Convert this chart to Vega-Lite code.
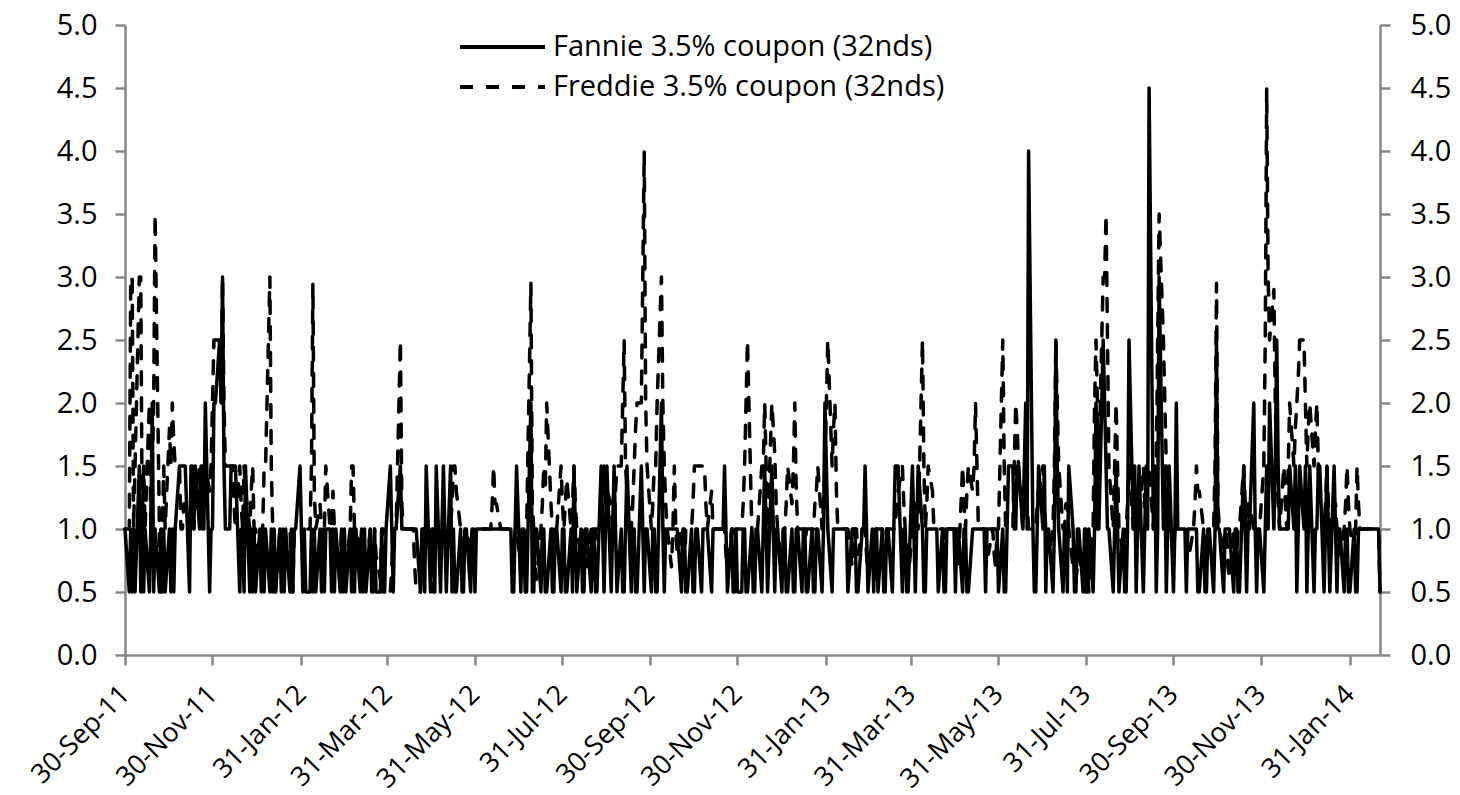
{
  "$schema": "https://vega.github.io/schema/vega-lite/v6.json",
  "width": 1255,
  "height": 630,
  "autosize": {"type": "none"},
  "padding": {"left": 125, "top": 25, "right": 80, "bottom": 140},
  "background": "white",
  "data": {"values": [
    {"d":"2011-09-30","a":1,"b":1},
    {"d":"2011-10-03","a":0.5,"b":1},{"d":"2011-10-04","a":1,"b":3},{"d":"2011-10-05","a":0.5,"b":3},{"d":"2011-10-06","a":1,"b":1},{"d":"2011-10-07","a":0.5,"b":1.5},
    {"d":"2011-10-10","a":1.5,"b":3},{"d":"2011-10-11","a":0.5,"b":3},{"d":"2011-10-12","a":1,"b":1},{"d":"2011-10-13","a":0.5,"b":1.5},{"d":"2011-10-14","a":1,"b":1},
    {"d":"2011-10-17","a":0.5,"b":2},{"d":"2011-10-18","a":1,"b":1},{"d":"2011-10-19","a":2,"b":1.5},{"d":"2011-10-20","a":0.5,"b":2},{"d":"2011-10-21","a":1,"b":3.5},
    {"d":"2011-10-24","a":0.5,"b":1},{"d":"2011-10-25","a":1,"b":0.5},{"d":"2011-10-26","a":0.5,"b":1},{"d":"2011-10-27","a":1,"b":1.5},{"d":"2011-10-28","a":0.5,"b":1},
    {"d":"2011-10-31","a":1,"b":1.8},{"d":"2011-11-01","a":0.5,"b":1.5},{"d":"2011-11-02","a":1,"b":2},{"d":"2011-11-03","a":0.5,"b":1.7},{"d":"2011-11-04","a":1,"b":1.5},
    {"d":"2011-11-07","a":1.5,"b":1.5},{"d":"2011-11-08","a":1.5,"b":1},{"d":"2011-11-09","a":1.5,"b":1},{"d":"2011-11-10","a":1.5,"b":1.2},{"d":"2011-11-11","a":1.5,"b":1.2},
    {"d":"2011-11-14","a":0.5,"b":1},{"d":"2011-11-15","a":1.5,"b":1.2},{"d":"2011-11-16","a":1.5,"b":1.5},{"d":"2011-11-17","a":1,"b":1},{"d":"2011-11-18","a":1.5,"b":1.2},
    {"d":"2011-11-21","a":1,"b":1.5},{"d":"2011-11-22","a":1.5,"b":1.2},{"d":"2011-11-23","a":1.5,"b":1},{"d":"2011-11-24","a":1,"b":1.3},{"d":"2011-11-25","a":2,"b":1.5},
    {"d":"2011-11-28","a":0.5,"b":1.3},{"d":"2011-11-29","a":1,"b":1.5},{"d":"2011-11-30","a":1,"b":2},{"d":"2011-12-01","a":2,"b":2.5},{"d":"2011-12-02","a":2,"b":2.5},
    {"d":"2011-12-05","a":2.5,"b":2.5},{"d":"2011-12-06","a":2,"b":2},{"d":"2011-12-07","a":3,"b":3},{"d":"2011-12-08","a":1.5,"b":2},{"d":"2011-12-09","a":1,"b":1.5},
    {"d":"2011-12-12","a":1,"b":1.5},{"d":"2011-12-13","a":1.5,"b":1.5},{"d":"2011-12-14","a":1.5,"b":1.5},{"d":"2011-12-15","a":1.5,"b":1.2},{"d":"2011-12-16","a":1.5,"b":1},
    {"d":"2011-12-19","a":0.5,"b":1.5},{"d":"2011-12-20","a":1,"b":1.2},{"d":"2011-12-21","a":1,"b":1},{"d":"2011-12-22","a":0.5,"b":1.5},{"d":"2011-12-23","a":1.5,"b":1.3},
    {"d":"2011-12-26","a":0.5,"b":1},{"d":"2011-12-27","a":1,"b":1.3},{"d":"2011-12-28","a":0.5,"b":1.5},{"d":"2011-12-29","a":1,"b":1},{"d":"2011-12-30","a":0.5,"b":1},
    {"d":"2012-01-02","a":1,"b":0.7},{"d":"2012-01-03","a":0.5,"b":1},{"d":"2012-01-04","a":1,"b":1},{"d":"2012-01-05","a":0.5,"b":1.5},{"d":"2012-01-06","a":1,"b":1.5},
    {"d":"2012-01-09","a":0.5,"b":3},{"d":"2012-01-10","a":1,"b":1.5},{"d":"2012-01-11","a":0.5,"b":1},{"d":"2012-01-12","a":1,"b":0.7},{"d":"2012-01-13","a":0.5,"b":0.5},
    {"d":"2012-01-16","a":1,"b":1},{"d":"2012-01-17","a":0.5,"b":1},{"d":"2012-01-18","a":1,"b":0.7},{"d":"2012-01-19","a":0.5,"b":1},{"d":"2012-01-20","a":1,"b":1},
    {"d":"2012-01-23","a":0.5,"b":1},{"d":"2012-01-24","a":1,"b":0.7},{"d":"2012-01-25","a":0.5,"b":0.5},{"d":"2012-01-26","a":1,"b":1},{"d":"2012-01-27","a":1,"b":1},
    {"d":"2012-01-30","a":1.5,"b":1},{"d":"2012-01-31","a":1,"b":1},{"d":"2012-02-01","a":0.5,"b":0.7},{"d":"2012-02-02","a":1,"b":1},{"d":"2012-02-03","a":0.5,"b":1},
    {"d":"2012-02-06","a":0.5,"b":1},{"d":"2012-02-07","a":1,"b":1.5},{"d":"2012-02-08","a":0.5,"b":2.95},{"d":"2012-02-09","a":1,"b":1.3},{"d":"2012-02-10","a":0.5,"b":1},
    {"d":"2012-02-13","a":1,"b":1.2},{"d":"2012-02-14","a":0.5,"b":1},{"d":"2012-02-15","a":1,"b":0.8},{"d":"2012-02-16","a":0.5,"b":1},{"d":"2012-02-17","a":1,"b":1.5},
    {"d":"2012-02-20","a":1,"b":1},{"d":"2012-02-21","a":0.5,"b":1},{"d":"2012-02-22","a":1,"b":1.3},{"d":"2012-02-23","a":0.5,"b":1},{"d":"2012-02-24","a":1,"b":0.8},
    {"d":"2012-02-27","a":0.5,"b":0.7},{"d":"2012-02-28","a":1,"b":1},{"d":"2012-02-29","a":0.5,"b":1},{"d":"2012-03-01","a":1,"b":0.7},{"d":"2012-03-02","a":0.5,"b":0.7},
    {"d":"2012-03-05","a":1,"b":1},{"d":"2012-03-06","a":0.5,"b":1.5},{"d":"2012-03-07","a":1,"b":1.5},{"d":"2012-03-08","a":0.5,"b":1},{"d":"2012-03-09","a":1,"b":1},
    {"d":"2012-03-12","a":0.5,"b":0.8},{"d":"2012-03-13","a":1,"b":1},{"d":"2012-03-14","a":0.5,"b":1},{"d":"2012-03-15","a":1,"b":0.7},{"d":"2012-03-16","a":0.5,"b":0.6},
    {"d":"2012-03-19","a":1,"b":1},{"d":"2012-03-20","a":0.5,"b":0.7},{"d":"2012-03-21","a":0.5,"b":0.5},{"d":"2012-03-22","a":1,"b":1},{"d":"2012-03-23","a":0.5,"b":0.8},
    {"d":"2012-03-26","a":0.5,"b":0.6},{"d":"2012-03-27","a":1,"b":1},{"d":"2012-03-28","a":0.5,"b":1},{"d":"2012-03-29","a":0.5,"b":0.5},{"d":"2012-03-30","a":1,"b":0.5},
    {"d":"2012-04-02","a":1.5,"b":0.5},{"d":"2012-04-03","a":1,"b":0.7},{"d":"2012-04-04","a":0.5,"b":1},{"d":"2012-04-05","a":1,"b":1},{"d":"2012-04-06","a":1,"b":1},
    {"d":"2012-04-09","a":1.5,"b":2.5},{"d":"2012-04-10","a":1,"b":1.2},{"d":"2012-04-11","a":1,"b":1},{"d":"2012-04-12","a":1,"b":1},{"d":"2012-04-13","a":1,"b":1},
    {"d":"2012-04-16","a":1,"b":1},{"d":"2012-04-17","a":1,"b":1},{"d":"2012-04-18","a":1,"b":1},{"d":"2012-04-19","a":1,"b":0.7},{"d":"2012-04-20","a":1,"b":0.5},
    {"d":"2012-04-23","a":0.5,"b":0.5},{"d":"2012-04-24","a":1,"b":0.7},{"d":"2012-04-25","a":1,"b":1},{"d":"2012-04-26","a":0.5,"b":1},{"d":"2012-04-27","a":1.5,"b":1},
    {"d":"2012-04-30","a":0.5,"b":1},{"d":"2012-05-01","a":1,"b":0.7},{"d":"2012-05-02","a":1,"b":0.5},{"d":"2012-05-03","a":0.5,"b":1},{"d":"2012-05-04","a":1.5,"b":1},
    {"d":"2012-05-07","a":0.5,"b":1},{"d":"2012-05-08","a":1,"b":1},{"d":"2012-05-09","a":1.5,"b":1.2},{"d":"2012-05-10","a":1,"b":1},{"d":"2012-05-11","a":0.5,"b":0.8},
    {"d":"2012-05-14","a":1.5,"b":1},{"d":"2012-05-15","a":0.5,"b":1.2},{"d":"2012-05-16","a":1,"b":1.5},{"d":"2012-05-17","a":0.5,"b":1.5},{"d":"2012-05-18","a":0.5,"b":1.3},
    {"d":"2012-05-21","a":1,"b":1},{"d":"2012-05-22","a":0.5,"b":0.8},{"d":"2012-05-23","a":0.5,"b":0.7},{"d":"2012-05-24","a":1,"b":1},{"d":"2012-05-25","a":1,"b":1},
    {"d":"2012-05-28","a":0.5,"b":0.8},{"d":"2012-05-29","a":1,"b":1},{"d":"2012-05-30","a":1,"b":1},{"d":"2012-05-31","a":0.5,"b":1},{"d":"2012-06-01","a":1,"b":1},
    {"d":"2012-06-04","a":1,"b":1},{"d":"2012-06-05","a":1,"b":1},{"d":"2012-06-06","a":1,"b":1},{"d":"2012-06-07","a":1,"b":1},{"d":"2012-06-08","a":1,"b":1},
    {"d":"2012-06-11","a":1,"b":1},{"d":"2012-06-12","a":1,"b":1.2},{"d":"2012-06-13","a":1,"b":1.5},{"d":"2012-06-14","a":1,"b":1.2},{"d":"2012-06-15","a":1,"b":1.2},
    {"d":"2012-06-18","a":1,"b":1},{"d":"2012-06-19","a":1,"b":1},{"d":"2012-06-20","a":1,"b":1},{"d":"2012-06-21","a":1,"b":1},{"d":"2012-06-22","a":1,"b":1},
    {"d":"2012-06-25","a":1,"b":1},{"d":"2012-06-26","a":0.5,"b":0.8},{"d":"2012-06-27","a":0.5,"b":0.8},{"d":"2012-06-28","a":1,"b":1},{"d":"2012-06-29","a":1.5,"b":1},
    {"d":"2012-07-02","a":0.5,"b":0.7},{"d":"2012-07-03","a":1,"b":1},{"d":"2012-07-04","a":1,"b":1},{"d":"2012-07-05","a":0.5,"b":0.8},{"d":"2012-07-06","a":0.5,"b":1},
    {"d":"2012-07-09","a":2,"b":2.95},{"d":"2012-07-10","a":0.5,"b":1.2},{"d":"2012-07-11","a":0.5,"b":1},{"d":"2012-07-12","a":1,"b":0.7},{"d":"2012-07-13","a":1,"b":0.6},
    {"d":"2012-07-16","a":0.5,"b":1},{"d":"2012-07-17","a":1,"b":1.2},{"d":"2012-07-18","a":1,"b":1.5},{"d":"2012-07-19","a":0.5,"b":1.3},{"d":"2012-07-20","a":0.5,"b":2},
    {"d":"2012-07-23","a":1,"b":1.2},{"d":"2012-07-24","a":0.5,"b":1},{"d":"2012-07-25","a":0.5,"b":0.8},{"d":"2012-07-26","a":1,"b":1},{"d":"2012-07-27","a":1,"b":1},
    {"d":"2012-07-30","a":0.5,"b":1.5},{"d":"2012-07-31","a":1,"b":1.2},{"d":"2012-08-01","a":1,"b":1},{"d":"2012-08-02","a":0.5,"b":1.2},{"d":"2012-08-03","a":0.5,"b":1.4},
    {"d":"2012-08-06","a":1,"b":1},{"d":"2012-08-07","a":0.5,"b":1.2},{"d":"2012-08-08","a":1.5,"b":1.5},{"d":"2012-08-09","a":1,"b":1.2},{"d":"2012-08-10","a":0.5,"b":1},
    {"d":"2012-08-13","a":1,"b":0.8},{"d":"2012-08-14","a":0.5,"b":1},{"d":"2012-08-15","a":0.5,"b":1},{"d":"2012-08-16","a":1,"b":0.8},{"d":"2012-08-17","a":1,"b":0.7},
    {"d":"2012-08-20","a":0.5,"b":1},{"d":"2012-08-21","a":1,"b":0.7},{"d":"2012-08-22","a":1,"b":0.6},{"d":"2012-08-23","a":0.5,"b":1},{"d":"2012-08-24","a":0.5,"b":1},
    {"d":"2012-08-27","a":1.5,"b":1},{"d":"2012-08-28","a":1,"b":1.2},{"d":"2012-08-29","a":0.5,"b":1.5},{"d":"2012-08-30","a":1,"b":1.2},{"d":"2012-08-31","a":1.5,"b":1.3},
    {"d":"2012-09-03","a":0.5,"b":1.2},{"d":"2012-09-04","a":1,"b":1},{"d":"2012-09-05","a":1.5,"b":1},{"d":"2012-09-06","a":1,"b":1.3},{"d":"2012-09-07","a":0.5,"b":1.5},
    {"d":"2012-09-10","a":1,"b":1.5},{"d":"2012-09-11","a":0.5,"b":2},{"d":"2012-09-12","a":0.5,"b":2.5},{"d":"2012-09-13","a":1,"b":1.5},{"d":"2012-09-14","a":1.5,"b":1.3},
    {"d":"2012-09-17","a":0.5,"b":1},{"d":"2012-09-18","a":1,"b":1.2},{"d":"2012-09-19","a":1,"b":1.5},{"d":"2012-09-20","a":0.5,"b":1.8},{"d":"2012-09-21","a":0.5,"b":2},
    {"d":"2012-09-24","a":1.5,"b":2},{"d":"2012-09-25","a":1,"b":3},{"d":"2012-09-26","a":0.5,"b":4},{"d":"2012-09-27","a":1,"b":2},{"d":"2012-09-28","a":1,"b":1.5},
    {"d":"2012-10-01","a":0.5,"b":1},{"d":"2012-10-02","a":1,"b":1.2},{"d":"2012-10-03","a":1,"b":1.5},{"d":"2012-10-04","a":0.5,"b":1.5},{"d":"2012-10-05","a":0.5,"b":2},
    {"d":"2012-10-08","a":2,"b":3},{"d":"2012-10-09","a":1,"b":2},{"d":"2012-10-10","a":0.5,"b":1.5},{"d":"2012-10-11","a":1,"b":1.2},{"d":"2012-10-12","a":1,"b":1},
    {"d":"2012-10-15","a":1,"b":0.7},{"d":"2012-10-16","a":1,"b":1},{"d":"2012-10-17","a":1,"b":1.5},{"d":"2012-10-18","a":1,"b":1},{"d":"2012-10-19","a":1,"b":0.8},
    {"d":"2012-10-22","a":0.5,"b":1},{"d":"2012-10-23","a":1,"b":0.8},{"d":"2012-10-24","a":1,"b":0.6},{"d":"2012-10-25","a":0.5,"b":1},{"d":"2012-10-26","a":0.5,"b":1},
    {"d":"2012-10-29","a":1,"b":1},{"d":"2012-10-30","a":0.5,"b":1.2},{"d":"2012-10-31","a":0.5,"b":1.5},{"d":"2012-11-01","a":1,"b":1.5},{"d":"2012-11-02","a":1,"b":1.5},
    {"d":"2012-11-05","a":0.5,"b":1.5},{"d":"2012-11-06","a":1,"b":1.5},{"d":"2012-11-07","a":1,"b":1.5},{"d":"2012-11-08","a":1,"b":1.2},{"d":"2012-11-09","a":1,"b":1},
    {"d":"2012-11-12","a":0.5,"b":1.3},{"d":"2012-11-13","a":1,"b":1},{"d":"2012-11-14","a":1,"b":1},{"d":"2012-11-15","a":1,"b":1},{"d":"2012-11-16","a":1,"b":1},
    {"d":"2012-11-19","a":1,"b":1},{"d":"2012-11-20","a":1,"b":1},{"d":"2012-11-21","a":1.5,"b":1},{"d":"2012-11-22","a":1,"b":0.8},{"d":"2012-11-23","a":0.5,"b":0.7},
    {"d":"2012-11-26","a":1,"b":1},{"d":"2012-11-27","a":0.5,"b":1},{"d":"2012-11-28","a":0.5,"b":0.8},{"d":"2012-11-29","a":1,"b":1},{"d":"2012-11-30","a":0.5,"b":1},
    {"d":"2012-12-03","a":0.5,"b":1},{"d":"2012-12-04","a":1,"b":1.2},{"d":"2012-12-05","a":1,"b":1.5},{"d":"2012-12-06","a":0.5,"b":2},{"d":"2012-12-07","a":0.5,"b":2.5},
    {"d":"2012-12-10","a":1,"b":1},{"d":"2012-12-11","a":0.5,"b":0.8},{"d":"2012-12-12","a":0.5,"b":0.7},{"d":"2012-12-13","a":1,"b":1},{"d":"2012-12-14","a":1,"b":1},
    {"d":"2012-12-17","a":0.5,"b":1.5},{"d":"2012-12-18","a":1,"b":1.5},{"d":"2012-12-19","a":1.5,"b":2},{"d":"2012-12-20","a":1,"b":1.5},{"d":"2012-12-21","a":0.5,"b":1},
    {"d":"2012-12-24","a":1.5,"b":2},{"d":"2012-12-25","a":1,"b":1.8},{"d":"2012-12-26","a":0.5,"b":1.6},{"d":"2012-12-27","a":1,"b":1.2},{"d":"2012-12-28","a":1,"b":1},
    {"d":"2012-12-31","a":0.5,"b":0.7},{"d":"2013-01-01","a":1,"b":1},{"d":"2013-01-02","a":1,"b":1},{"d":"2013-01-03","a":0.5,"b":1.2},{"d":"2013-01-04","a":0.5,"b":1.5},
    {"d":"2013-01-07","a":1,"b":1.2},{"d":"2013-01-08","a":0.5,"b":1.5},{"d":"2013-01-09","a":0.5,"b":2},{"d":"2013-01-10","a":1,"b":1.3},{"d":"2013-01-11","a":1,"b":1},
    {"d":"2013-01-14","a":0.5,"b":1},{"d":"2013-01-15","a":1,"b":1},{"d":"2013-01-16","a":1,"b":0.8},{"d":"2013-01-17","a":0.5,"b":1},{"d":"2013-01-18","a":0.5,"b":1},
    {"d":"2013-01-21","a":1,"b":1},{"d":"2013-01-22","a":0.5,"b":1},{"d":"2013-01-23","a":0.5,"b":1.2},{"d":"2013-01-24","a":1,"b":1.3},{"d":"2013-01-25","a":1,"b":1.5},
    {"d":"2013-01-28","a":0.5,"b":1},{"d":"2013-01-29","a":1,"b":1.2},{"d":"2013-01-30","a":2,"b":1.5},{"d":"2013-01-31","a":1.5,"b":2},{"d":"2013-02-01","a":1,"b":2.5},
    {"d":"2013-02-04","a":0.5,"b":1.5},{"d":"2013-02-05","a":1,"b":1.8},{"d":"2013-02-06","a":1,"b":2},{"d":"2013-02-07","a":1,"b":1.3},{"d":"2013-02-08","a":1,"b":1},
    {"d":"2013-02-11","a":1,"b":1},{"d":"2013-02-12","a":1,"b":1},{"d":"2013-02-13","a":1,"b":1},{"d":"2013-02-14","a":1,"b":1},{"d":"2013-02-15","a":0.5,"b":1},
    {"d":"2013-02-18","a":1,"b":0.7},{"d":"2013-02-19","a":1,"b":1},{"d":"2013-02-20","a":1,"b":1},{"d":"2013-02-21","a":0.5,"b":1},{"d":"2013-02-22","a":0.5,"b":0.8},
    {"d":"2013-02-25","a":1,"b":1},{"d":"2013-02-26","a":1,"b":1},{"d":"2013-02-27","a":1.5,"b":1},{"d":"2013-02-28","a":1,"b":0.8},{"d":"2013-03-01","a":0.5,"b":0.6},
    {"d":"2013-03-04","a":1,"b":0.8},{"d":"2013-03-05","a":0.5,"b":0.7},{"d":"2013-03-06","a":1,"b":0.6},{"d":"2013-03-07","a":1,"b":1},{"d":"2013-03-08","a":0.5,"b":1},
    {"d":"2013-03-11","a":1,"b":1},{"d":"2013-03-12","a":0.5,"b":0.8},{"d":"2013-03-13","a":0.5,"b":0.7},{"d":"2013-03-14","a":1,"b":1},{"d":"2013-03-15","a":1,"b":1},
    {"d":"2013-03-18","a":0.5,"b":1},{"d":"2013-03-19","a":1,"b":1},{"d":"2013-03-20","a":1.5,"b":1},{"d":"2013-03-21","a":1.5,"b":1.2},{"d":"2013-03-22","a":1.5,"b":1.3},
    {"d":"2013-03-25","a":0.5,"b":1.5},{"d":"2013-03-26","a":1,"b":1.2},{"d":"2013-03-27","a":1,"b":1},{"d":"2013-03-28","a":0.5,"b":0.8},{"d":"2013-03-29","a":0.5,"b":0.6},
    {"d":"2013-04-01","a":1.5,"b":1},{"d":"2013-04-02","a":1,"b":1.2},{"d":"2013-04-03","a":0.5,"b":1.2},{"d":"2013-04-04","a":1,"b":1},{"d":"2013-04-05","a":1.5,"b":1},
    {"d":"2013-04-08","a":1,"b":2.5},{"d":"2013-04-09","a":0.5,"b":1.5},{"d":"2013-04-10","a":0.5,"b":1},{"d":"2013-04-11","a":1,"b":1.2},{"d":"2013-04-12","a":1,"b":1.5},
    {"d":"2013-04-15","a":1,"b":1.3},{"d":"2013-04-16","a":1,"b":1},{"d":"2013-04-17","a":1,"b":1},{"d":"2013-04-18","a":1,"b":1},{"d":"2013-04-19","a":0.5,"b":1},
    {"d":"2013-04-22","a":1,"b":1},{"d":"2013-04-23","a":0.5,"b":1},{"d":"2013-04-24","a":0.5,"b":0.8},{"d":"2013-04-25","a":1,"b":1},{"d":"2013-04-26","a":1,"b":1},
    {"d":"2013-04-29","a":1,"b":1},{"d":"2013-04-30","a":1,"b":1},{"d":"2013-05-01","a":0.5,"b":1},{"d":"2013-05-02","a":1,"b":0.8},{"d":"2013-05-03","a":1,"b":0.7},
    {"d":"2013-05-06","a":0.5,"b":1.5},{"d":"2013-05-07","a":1,"b":1.2},{"d":"2013-05-08","a":1,"b":1},{"d":"2013-05-09","a":0.5,"b":1.3},{"d":"2013-05-10","a":0.5,"b":1.5},
    {"d":"2013-05-13","a":1,"b":1.3},{"d":"2013-05-14","a":1,"b":1.5},{"d":"2013-05-15","a":1,"b":2},{"d":"2013-05-16","a":1,"b":1.5},{"d":"2013-05-17","a":1,"b":1},
    {"d":"2013-05-20","a":1,"b":1},{"d":"2013-05-21","a":1,"b":1},{"d":"2013-05-22","a":0.5,"b":1},{"d":"2013-05-23","a":1,"b":0.8},{"d":"2013-05-24","a":1,"b":0.8},
    {"d":"2013-05-27","a":1,"b":1},{"d":"2013-05-28","a":1,"b":0.8},{"d":"2013-05-29","a":1,"b":0.7},{"d":"2013-05-30","a":1,"b":1},{"d":"2013-05-31","a":0.5,"b":1},
    {"d":"2013-06-03","a":1,"b":2.5},{"d":"2013-06-04","a":0.5,"b":1.5},{"d":"2013-06-05","a":0.5,"b":1},{"d":"2013-06-06","a":1,"b":1},{"d":"2013-06-07","a":1.5,"b":1},
    {"d":"2013-06-10","a":1.5,"b":1},{"d":"2013-06-11","a":1,"b":1.5},{"d":"2013-06-12","a":1,"b":2},{"d":"2013-06-13","a":1.5,"b":1.8},{"d":"2013-06-14","a":1.5,"b":1.5},
    {"d":"2013-06-17","a":1,"b":1},{"d":"2013-06-18","a":1.5,"b":1.2},{"d":"2013-06-19","a":2,"b":1.5},{"d":"2013-06-20","a":1,"b":1.2},{"d":"2013-06-21","a":4,"b":1},
    {"d":"2013-06-24","a":1,"b":1},{"d":"2013-06-25","a":0.5,"b":1},{"d":"2013-06-26","a":0.5,"b":1},{"d":"2013-06-27","a":1,"b":1.2},{"d":"2013-06-28","a":1.5,"b":1.3},
    {"d":"2013-07-01","a":1,"b":1.5},{"d":"2013-07-02","a":1.5,"b":1.2},{"d":"2013-07-03","a":0.5,"b":1},{"d":"2013-07-04","a":1,"b":1},{"d":"2013-07-05","a":1,"b":0.8},
    {"d":"2013-07-08","a":0.5,"b":1},{"d":"2013-07-09","a":1,"b":1.5},{"d":"2013-07-10","a":2.5,"b":2.5},{"d":"2013-07-11","a":1.5,"b":2},{"d":"2013-07-12","a":1,"b":1.5},
    {"d":"2013-07-15","a":0.5,"b":1},{"d":"2013-07-16","a":1,"b":1},{"d":"2013-07-17","a":1,"b":1.2},{"d":"2013-07-18","a":0.5,"b":1.2},{"d":"2013-07-19","a":1.5,"b":1},
    {"d":"2013-07-22","a":1,"b":0.7},{"d":"2013-07-23","a":0.5,"b":0.8},{"d":"2013-07-24","a":0.5,"b":0.6},{"d":"2013-07-25","a":1,"b":0.7},{"d":"2013-07-26","a":1,"b":0.8},
    {"d":"2013-07-29","a":0.5,"b":0.6},{"d":"2013-07-30","a":1,"b":0.7},{"d":"2013-07-31","a":0.5,"b":1},{"d":"2013-08-01","a":0.5,"b":0.7},{"d":"2013-08-02","a":1,"b":0.5},
    {"d":"2013-08-05","a":0.5,"b":1},{"d":"2013-08-06","a":1,"b":2},{"d":"2013-08-07","a":2,"b":2.5},{"d":"2013-08-08","a":1,"b":2},{"d":"2013-08-09","a":1,"b":1.5},
    {"d":"2013-08-12","a":2.5,"b":3},{"d":"2013-08-13","a":2,"b":3},{"d":"2013-08-14","a":1.5,"b":3.5},{"d":"2013-08-15","a":1,"b":2.5},{"d":"2013-08-16","a":1,"b":1.5},
    {"d":"2013-08-19","a":0.5,"b":1},{"d":"2013-08-20","a":1,"b":1.5},{"d":"2013-08-21","a":1.5,"b":2},{"d":"2013-08-22","a":1,"b":1.5},{"d":"2013-08-23","a":0.5,"b":1},
    {"d":"2013-08-26","a":1,"b":0.8},{"d":"2013-08-27","a":0.5,"b":1},{"d":"2013-08-28","a":0.5,"b":1},{"d":"2013-08-29","a":1,"b":1.2},{"d":"2013-08-30","a":2.5,"b":1.5},
    {"d":"2013-09-02","a":1,"b":1},{"d":"2013-09-03","a":1.5,"b":1},{"d":"2013-09-04","a":0.5,"b":1},{"d":"2013-09-05","a":1,"b":1.2},{"d":"2013-09-06","a":1.5,"b":1},
    {"d":"2013-09-09","a":0.5,"b":1.5},{"d":"2013-09-10","a":1,"b":1.2},{"d":"2013-09-11","a":1.5,"b":1},{"d":"2013-09-12","a":1,"b":1.3},{"d":"2013-09-13","a":4.5,"b":1.5},
    {"d":"2013-09-16","a":1,"b":1},{"d":"2013-09-17","a":1.5,"b":1.2},{"d":"2013-09-18","a":0.5,"b":1.5},{"d":"2013-09-19","a":1,"b":2.5},{"d":"2013-09-20","a":3,"b":3.5},
    {"d":"2013-09-23","a":1,"b":2.5},{"d":"2013-09-24","a":1.5,"b":2},{"d":"2013-09-25","a":0.5,"b":1.5},{"d":"2013-09-26","a":1,"b":1.2},{"d":"2013-09-27","a":1.5,"b":1},
    {"d":"2013-09-30","a":0.5,"b":0.8},{"d":"2013-10-01","a":1,"b":1},{"d":"2013-10-02","a":2,"b":1},{"d":"2013-10-03","a":1,"b":1},{"d":"2013-10-04","a":1,"b":1},
    {"d":"2013-10-07","a":1,"b":1},{"d":"2013-10-08","a":1,"b":1},{"d":"2013-10-09","a":0.5,"b":1},{"d":"2013-10-10","a":1,"b":0.8},{"d":"2013-10-11","a":1,"b":0.8},
    {"d":"2013-10-14","a":1,"b":1},{"d":"2013-10-15","a":1,"b":1.2},{"d":"2013-10-16","a":1,"b":1.5},{"d":"2013-10-17","a":0.5,"b":1.3},{"d":"2013-10-18","a":0.5,"b":1.3},
    {"d":"2013-10-21","a":1,"b":1},{"d":"2013-10-22","a":0.5,"b":0.8},{"d":"2013-10-23","a":0.5,"b":0.7},{"d":"2013-10-24","a":1,"b":1},{"d":"2013-10-25","a":1,"b":1},
    {"d":"2013-10-28","a":0.5,"b":1},{"d":"2013-10-29","a":1,"b":1.5},{"d":"2013-10-30","a":2.5,"b":2.95},{"d":"2013-10-31","a":1,"b":1.2},{"d":"2013-11-01","a":1,"b":1},
    {"d":"2013-11-04","a":0.5,"b":0.8},{"d":"2013-11-05","a":1,"b":1},{"d":"2013-11-06","a":1,"b":1},{"d":"2013-11-07","a":1,"b":0.7},{"d":"2013-11-08","a":1,"b":0.6},
    {"d":"2013-11-11","a":0.5,"b":1},{"d":"2013-11-12","a":1,"b":0.8},{"d":"2013-11-13","a":1,"b":0.7},{"d":"2013-11-14","a":0.5,"b":1},{"d":"2013-11-15","a":0.5,"b":1},
    {"d":"2013-11-18","a":1.5,"b":1.5},{"d":"2013-11-19","a":1,"b":1.2},{"d":"2013-11-20","a":0.5,"b":1},{"d":"2013-11-21","a":1,"b":1.2},{"d":"2013-11-22","a":1,"b":1.2},
    {"d":"2013-11-25","a":2,"b":1},{"d":"2013-11-26","a":1,"b":1},{"d":"2013-11-27","a":0.5,"b":0.8},{"d":"2013-11-28","a":1,"b":1},{"d":"2013-11-29","a":1,"b":1},
    {"d":"2013-12-02","a":0.5,"b":1.5},{"d":"2013-12-03","a":1,"b":2.5},{"d":"2013-12-04","a":1.5,"b":4.5},{"d":"2013-12-05","a":1,"b":3},{"d":"2013-12-06","a":2,"b":2.5},
    {"d":"2013-12-09","a":1,"b":2.9},{"d":"2013-12-10","a":1.5,"b":2},{"d":"2013-12-11","a":2.5,"b":1.5},{"d":"2013-12-12","a":1.5,"b":1.2},{"d":"2013-12-13","a":1,"b":1},
    {"d":"2013-12-16","a":1,"b":1.5},{"d":"2013-12-17","a":1,"b":1.2},{"d":"2013-12-18","a":1,"b":1},{"d":"2013-12-19","a":1,"b":1.5},{"d":"2013-12-20","a":1.5,"b":2},
    {"d":"2013-12-23","a":1,"b":1.5},{"d":"2013-12-24","a":1.5,"b":1.8},{"d":"2013-12-25","a":0.5,"b":2},{"d":"2013-12-26","a":1,"b":2.2},{"d":"2013-12-27","a":1.5,"b":2.5},
    {"d":"2013-12-30","a":1,"b":2.5},{"d":"2013-12-31","a":1.5,"b":2},{"d":"2014-01-01","a":0.5,"b":1.5},{"d":"2014-01-02","a":1,"b":1.8},{"d":"2014-01-03","a":1.5,"b":2},
    {"d":"2014-01-06","a":0.5,"b":1.5},{"d":"2014-01-07","a":1,"b":1.8},{"d":"2014-01-08","a":1,"b":2},{"d":"2014-01-09","a":1.5,"b":1.5},{"d":"2014-01-10","a":1.5,"b":1.2},
    {"d":"2014-01-13","a":0.5,"b":1},{"d":"2014-01-14","a":1,"b":1.2},{"d":"2014-01-15","a":1.5,"b":1.5},{"d":"2014-01-16","a":1,"b":1.2},{"d":"2014-01-17","a":0.5,"b":1},
    {"d":"2014-01-20","a":1.5,"b":1.2},{"d":"2014-01-21","a":1,"b":1.2},{"d":"2014-01-22","a":0.5,"b":1},{"d":"2014-01-23","a":1,"b":1},{"d":"2014-01-24","a":1,"b":0.8},
    {"d":"2014-01-27","a":0.5,"b":1},{"d":"2014-01-28","a":1,"b":1.2},{"d":"2014-01-29","a":1,"b":1.5},{"d":"2014-01-30","a":0.5,"b":1.2},{"d":"2014-01-31","a":0.5,"b":1},
    {"d":"2014-02-03","a":1,"b":0.8},{"d":"2014-02-04","a":0.5,"b":1},{"d":"2014-02-05","a":0.5,"b":1.5},{"d":"2014-02-06","a":1,"b":1.2},{"d":"2014-02-07","a":1,"b":1},
    {"d":"2014-02-10","a":1,"b":1},{"d":"2014-02-11","a":1,"b":1},{"d":"2014-02-12","a":1,"b":1},{"d":"2014-02-13","a":1,"b":1},{"d":"2014-02-14","a":1,"b":1},
    {"d":"2014-02-17","a":1,"b":1},{"d":"2014-02-18","a":1,"b":1},{"d":"2014-02-19","a":1,"b":1},{"d":"2014-02-20","a":1,"b":1},{"d":"2014-02-21","a":0.5,"b":0.5}
  ]},
  "encoding": {
    "x": {
      "field": "d",
      "type": "temporal",
      "scale": {"type": "utc", "domain": [
        {"year": 2011, "month": 9, "date": 30, "utc": true},
        {"year": 2014, "month": 2, "date": 21, "utc": true}
      ]},
      "axis": {
        "title": null,
        "labelExpr": "utcFormat(datum.value, '%d-%b-%y')",
        "values": [
          {"year": 2011, "month": 9, "date": 30, "utc": true},
          {"year": 2011, "month": 11, "date": 30, "utc": true},
          {"year": 2012, "month": 1, "date": 31, "utc": true},
          {"year": 2012, "month": 3, "date": 31, "utc": true},
          {"year": 2012, "month": 5, "date": 31, "utc": true},
          {"year": 2012, "month": 7, "date": 31, "utc": true},
          {"year": 2012, "month": 9, "date": 30, "utc": true},
          {"year": 2012, "month": 11, "date": 30, "utc": true},
          {"year": 2013, "month": 1, "date": 31, "utc": true},
          {"year": 2013, "month": 3, "date": 31, "utc": true},
          {"year": 2013, "month": 5, "date": 31, "utc": true},
          {"year": 2013, "month": 7, "date": 31, "utc": true},
          {"year": 2013, "month": 9, "date": 30, "utc": true},
          {"year": 2013, "month": 11, "date": 30, "utc": true},
          {"year": 2014, "month": 1, "date": 31, "utc": true}
        ],
        "labelAngle": -45,
        "labelAlign": "right",
        "labelBaseline": "middle",
        "labelFontSize": 27,
        "labelPadding": 25,
        "labelOffset": 0,
        "labelFlush": false,
        "labelOverlap": false
      }
    }
  },
  "layer": [
    {
      "mark": {"type": "line", "color": "black", "strokeWidth": 3.5, "strokeCap": "round", "strokeJoin": "round"},
      "encoding": {
        "y": {
          "field": "a", "type": "quantitative",
          "scale": {"domain": [0, 5], "nice": false},
          "axis": {"orient": "left", "title": null, "values": [0, 0.5, 1, 1.5, 2, 2.5, 3, 3.5, 4, 4.5, 5], "format": ".1f", "labelPadding": 18, "labelOverlap": false}
        },
        "strokeDash": {
          "datum": "Fannie 3.5% coupon (32nds)",
          "type": "nominal",
          "scale": {"domain": ["Fannie 3.5% coupon (32nds)", "Freddie 3.5% coupon (32nds)"], "range": [[1, 0], [13, 13]]},
          "legend": {
            "orient": "none", "legendX": 333, "legendY": 7, "title": null,
            "symbolType": "stroke", "symbolSize": 7225, "symbolStrokeWidth": 4,
            "symbolStrokeColor": "black", "symbolFillColor": "transparent",
            "labelFont": "Open Sans", "labelFontSize": 29, "labelColor": "black",
            "labelOffset": 6, "labelLimit": 0, "clipHeight": 30, "rowPadding": 10, "padding": 0
          }
        }
      }
    },
    {
      "mark": {"type": "line", "color": "black", "strokeWidth": 3.5, "strokeCap": "round", "strokeJoin": "round"},
      "encoding": {
        "y": {
          "field": "b", "type": "quantitative",
          "scale": {"domain": [0, 5], "nice": false},
          "axis": {"orient": "right", "title": null, "values": [0, 0.5, 1, 1.5, 2, 2.5, 3, 3.5, 4, 4.5, 5], "format": ".1f", "labelPadding": 20, "labelOverlap": false}
        },
        "strokeDash": {"datum": "Freddie 3.5% coupon (32nds)", "type": "nominal"}
      }
    }
  ],
  "resolve": {"axis": {"y": "independent"}},
  "config": {
    "view": {"stroke": null},
    "font": "Open Sans",
    "axis": {
      "grid": false,
      "domainColor": "#878787",
      "domainWidth": 2.5,
      "tickColor": "#878787",
      "tickWidth": 2.5,
      "tickSize": 10,
      "labelFont": "Open Sans",
      "labelFontSize": 29,
      "labelColor": "black"
    }
  }
}
